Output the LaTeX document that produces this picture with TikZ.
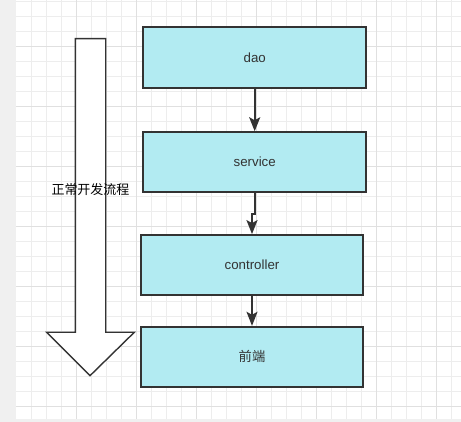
\documentclass[tikz,border=0pt]{standalone}
\usepackage{fontspec}
\setmainfont{Liberation Sans}
\newfontfamily\cjk{Noto Sans CJK SC}
\usetikzlibrary{arrows.meta}
\definecolor{boxfill}{HTML}{B2EBF2}
\definecolor{inkline}{HTML}{333333}
\definecolor{paper}{HTML}{F0F0F0}
\definecolor{gridminor}{HTML}{EDEDED}
\definecolor{gridmajor}{HTML}{E0E0E0}
\begin{document}
\begin{tikzpicture}[x=1pt,y=-1pt,
		layer/.style={draw=inkline,line width=1.8pt,fill=boxfill,minimum width=221pt,minimum height=59pt,inner sep=0pt,text=inkline,font=\fontsize{13.3}{16}\selectfont},
		flow/.style={draw=inkline,line width=1.8pt,-{Stealth[length=14pt,width=11pt,inset=3pt]}}]
		\useasboundingbox (0,0) rectangle (461,422);
		% canvas
		\fill[paper] (0,0) rectangle (461,422);
		\fill[white] (16,0) rectangle (461,418.5);
		\foreach \gx in {31.7,46.7,...,460} \draw[gridminor,line width=0.7pt] (\gx,0) -- (\gx,418.5);
		\foreach \gy in {1.7,16.7,...,418} \draw[gridminor,line width=0.7pt] (16,\gy) -- (461,\gy);
		\foreach \gx in {76.7,136.7,...,460} \draw[gridmajor,line width=0.7pt] (\gx,0) -- (\gx,418.5);
		\foreach \gy in {46.7,106.7,...,418} \draw[gridmajor,line width=0.7pt] (16,\gy) -- (461,\gy);
		
		% big arrow
		\draw[inkline,line width=1.4pt,fill=white,line join=miter] (75.3,38.7) -- (105.7,38.7) -- (105.7,332.3) -- (134.3,332.3) -- (90,375.7) -- (46.7,332.3) -- (75.3,332.3) -- cycle;
		\node[text=black,font=\cjk\fontsize{13}{16}\selectfont] (devflow) at (90.5,190) {正常开发流程};
		
		% layers
		\node[layer,minimum width=222.7pt,minimum height=60.7pt] (dao) at (254.7,57.7) {dao};
		\node[layer,minimum width=222.7pt,minimum height=59.7pt] (service) at (254.7,162) {service};
		\node[layer,minimum width=221.7pt,minimum height=60pt] (controller) at (252,265) {controller};
		\node[layer,minimum width=222pt,minimum height=60pt,font=\cjk\fontsize{13.3}{16}\selectfont] (front) at (252,356.7) {前端};
		
		\draw[flow] (dao) -- (service);
		\draw[flow] (service.south) -- ++(0,21) -| (controller.north);
		\draw[flow] (controller) -- (front);
	\end{tikzpicture}
\end{document}
